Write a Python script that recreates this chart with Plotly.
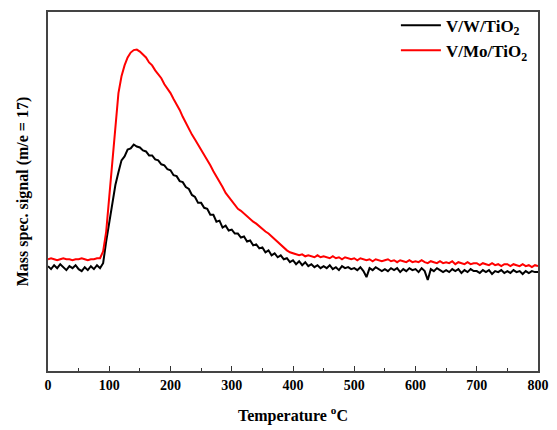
import plotly.graph_objects as go

temperature = list(range(0, 805, 5))

vw_tio2 = [
    106, 103, 107, 104, 108, 105, 102, 106, 104, 107,
    103, 101, 105, 102, 106, 103, 107, 104, 109, 131,
    151, 169, 188, 201, 213, 217, 224, 225, 229, 227,
    226, 223, 222, 218, 218, 214, 213, 209, 208, 204,
    203, 198, 197, 192, 191, 186, 184, 178, 176, 170,
    170, 165, 164, 158, 158, 151, 152, 145, 147, 142,
    143, 139, 139, 135, 136, 131, 132, 127, 128, 124,
    125, 120, 122, 117, 119, 115, 117, 113, 114, 110,
    112, 108, 111, 107, 110, 106, 108, 105, 107, 104,
    106, 104, 107, 103, 105, 102, 106, 104, 105, 103,
    104, 102, 105, 101, 95, 104, 102, 105, 103, 101,
    103, 101, 104, 102, 104, 100, 103, 101, 104, 102,
    103, 100, 104, 101, 92, 103, 101, 104, 102, 100,
    102, 100, 103, 101, 103, 99, 102, 100, 103, 101,
    101, 99, 102, 100, 102, 98, 101, 100, 102, 99,
    101, 99, 102, 100, 101, 98, 101, 99, 101, 100,
    100,
]

vmo_tio2 = [
    113, 114, 113, 112, 113, 114, 113, 113, 112, 113,
    113, 114, 113, 112, 113, 113, 114, 114, 121, 141,
    176, 213, 251, 281, 298, 309, 317, 322, 324.5, 325,
    323, 320, 317, 312, 309, 304, 300, 296, 290, 286,
    281, 275, 270, 264, 257, 251, 244, 239, 234, 229,
    223, 218, 213, 208, 202, 197, 191, 186, 180, 176,
    172, 168, 164, 162, 159, 156, 154, 151, 149, 146,
    144, 141, 139, 136, 133, 130, 127, 124, 122, 120,
    119, 118, 117, 118, 116, 117, 116, 115, 117, 115,
    116, 115, 114, 116, 114, 115, 113, 115, 114, 113,
    114, 112, 114, 113, 112, 113, 111, 113, 112, 111,
    112, 113, 111, 112, 110, 112, 111, 110, 112, 110,
    111, 110, 112, 110, 109, 111, 110, 109, 111, 109,
    110, 109, 111, 108, 110, 109, 108, 110, 108, 109,
    109, 107, 109, 108, 107, 109, 107, 108, 106, 108,
    108, 106, 108, 107, 106, 108, 106, 107, 105, 107,
    106,
]

x_ticks = [0, 100, 200, 300, 400, 500, 600, 700, 800]

font_family = "Liberation Serif, Times New Roman, serif"

fig = go.Figure()
fig.add_trace(go.Scatter(x=temperature, y=vw_tio2, mode="lines",
                         name="V/W/TiO<sub>2</sub>",
                         line=dict(color="black", width=2)))
fig.add_trace(go.Scatter(x=temperature, y=vmo_tio2, mode="lines",
                         name="V/Mo/TiO<sub>2</sub>",
                         line=dict(color="#ff0000", width=2)))

fig.update_layout(
    width=557, height=430,
    margin=dict(l=48, r=16, t=8, b=59),
    paper_bgcolor="white", plot_bgcolor="white",
    font=dict(family=font_family, color="black"),
    showlegend=True,
    legend=dict(x=0.71, y=1.012, xanchor="left", yanchor="top",
                bgcolor="rgba(0,0,0,0)", borderwidth=0,
                font=dict(family=font_family, size=17, color="black", weight="bold"),
                itemwidth=40),
    xaxis=dict(
        range=[0, 800], tickvals=x_ticks, ticktext=[str(v) for v in x_ticks],
        ticks="inside", ticklen=5, tickwidth=1, tickcolor="#333",
        minor=dict(ticks="inside", dtick=50, ticklen=3, tickcolor="#333", tickwidth=1),
        showline=True, linecolor="#444", linewidth=1.5, mirror=True,
        showgrid=False, zeroline=False,
        tickfont=dict(family=font_family, size=14, color="black", weight="bold"),
        title=dict(text="Temperature <sup>o</sup>C", standoff=18,
                   font=dict(family=font_family, size=16, color="black", weight="bold")),
    ),
    yaxis=dict(
        range=[0, 363], showticklabels=False, ticks="",
        showline=True, linecolor="#444", linewidth=1.5, mirror=True,
        showgrid=False, zeroline=False,
        title=dict(text="Mass spec. signal (m/e = 17)", standoff=14,
                   font=dict(family=font_family, size=16, color="black", weight="bold")),
    ),
)

fig.write_html("out.html")
